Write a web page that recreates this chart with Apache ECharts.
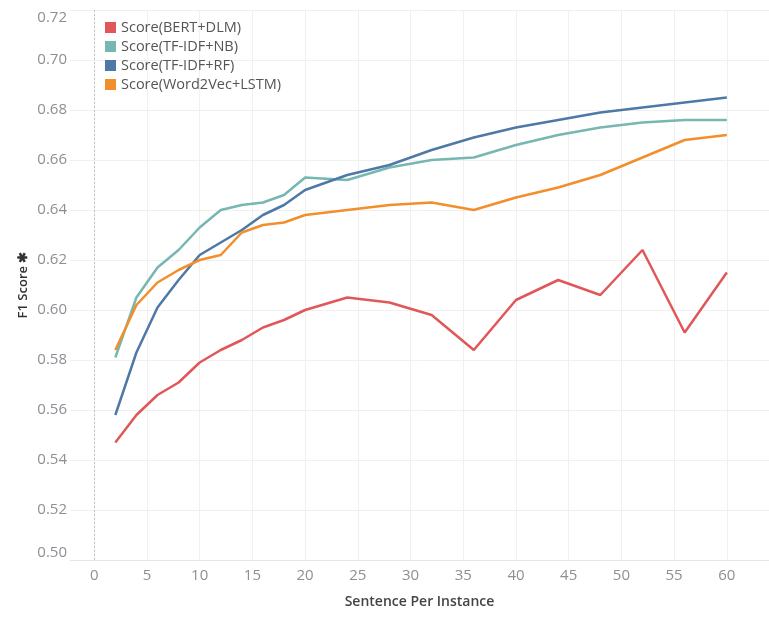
<!DOCTYPE html>
<html>
<head>
<meta charset="utf-8">
<script src="https://cdn.jsdelivr.net/npm/echarts@6/dist/echarts.min.js"></script>
<style>
html,body{margin:0;padding:0;background:#fff;}
#chart{width:769px;height:624px;}
</style>
</head>
<body>
<div id="chart"></div>
<script>
const xValues = [2,4,6,8,10,12,14,16,18,20,24,28,32,36,40,44,48,52,56,60];
const bertDlm = [0.547,0.558,0.566,0.571,0.579,0.584,0.588,0.593,0.596,0.600,0.605,0.603,0.598,0.584,0.604,0.612,0.606,0.624,0.591,0.615];
const tfidfNb = [0.581,0.605,0.617,0.624,0.633,0.640,0.642,0.643,0.646,0.653,0.652,0.657,0.660,0.661,0.666,0.670,0.673,0.675,0.676,0.676];
const tfidfRf = [0.558,0.583,0.601,0.612,0.622,0.627,0.632,0.638,0.642,0.648,0.654,0.658,0.664,0.669,0.673,0.676,0.679,0.681,0.683,0.685];
const w2vLstm = [0.584,0.602,0.611,0.616,0.620,0.622,0.631,0.634,0.635,0.638,0.640,0.642,0.643,0.640,0.645,0.649,0.654,0.661,0.668,0.670];
const seriesNames = ['Score(BERT+DLM)','Score(TF-IDF+NB)','Score(TF-IDF+RF)','Score(Word2Vec+LSTM)'];
const xTicks = [0,5,10,15,20,25,30,35,40,45,50,55,60];
const colors = ['#e15759','#76b7b2','#4e79a7','#f28e2b'];

const font = '"Open Sans", "Noto Sans", sans-serif';
const allData = [bertDlm, tfidfNb, tfidfRf, w2vLstm];

const series = allData.map((vals, i) => ({
  name: seriesNames[i],
  type: 'line',
  data: xValues.map((x, j) => [x, vals[j]]),
  showSymbol: false,
  symbol: 'none',
  lineStyle: { width: 2.5, color: colors[i] },
  itemStyle: { color: colors[i] },
  z: 3,
  markLine: i === 0 ? {
    silent: true,
    symbol: 'none',
    label: { show: false },
    lineStyle: { type: [2, 2], color: '#c4c4c4', width: 1 },
    data: [{ xAxis: 0 }],
    z: 1
  } : undefined
}));

const chart = echarts.init(document.getElementById('chart'));
chart.setOption({
  animation: false,
  color: colors,
  textStyle: { fontFamily: font },
  grid: { left: 70, right: 0, top: 10, bottom: 64 },
  legend: {
    orient: 'vertical',
    left: 100,
    top: 15,
    icon: 'rect',
    itemWidth: 11,
    itemHeight: 11,
    itemGap: 4,
    data: seriesNames,
    textStyle: { fontFamily: font, fontSize: 14.5, color: '#555' }
  },
  xAxis: {
    type: 'value',
    min: -2.3,
    max: 64,
    name: 'Sentence Per Instance',
    nameLocation: 'middle',
    nameGap: 35,
    nameTextStyle: { fontFamily: font, fontSize: 14, fontWeight: 600, color: '#444' },
    axisLine: { show: true, lineStyle: { color: '#e6e6e6', width: 1 } },
    axisTick: { show: false, customValues: xTicks },
    axisLabel: { customValues: xTicks, fontSize: 15, color: '#8c8f94', margin: 8, fontFamily: font },
    splitLine: { show: true, lineStyle: { color: '#f0f0f0', width: 1 } }
  },
  yAxis: {
    type: 'value',
    min: 0.5,
    max: 0.72,
    interval: 0.02,
    name: 'F1 Score ✱',
    nameLocation: 'middle',
    nameRotate: 90,
    nameGap: 40,
    nameMoveOverlap: false,
    nameTextStyle: { fontFamily: font, fontSize: 13, fontWeight: 600, color: '#333' },
    axisLine: { show: false },
    axisTick: { show: false },
    axisLabel: {
      fontSize: 15, color: '#8c8f94', margin: 3, fontFamily: font,
      formatter: v => v.toFixed(2),
      verticalAlignMaxLabel: 'top',
      verticalAlignMinLabel: 'bottom'
    },
    splitLine: { show: true, lineStyle: { color: '#f0f0f0', width: 1 } }
  },
  series: series
});
</script>
</body>
</html>
